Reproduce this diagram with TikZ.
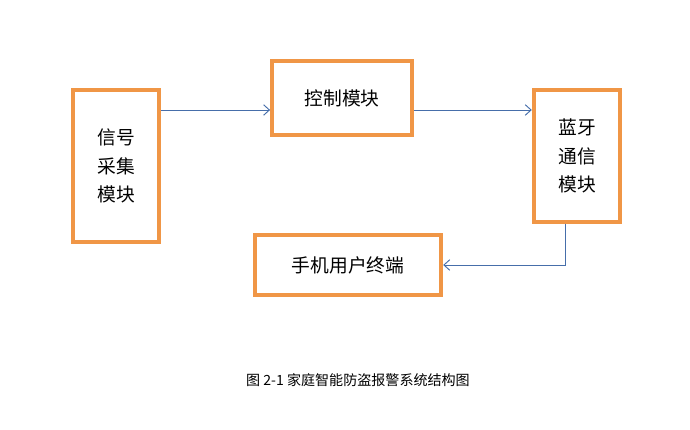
\documentclass[tikz,border=0pt]{standalone}
\usepackage{fontspec}
\usepackage{xcolor}
\usetikzlibrary{arrows.meta, positioning}
\setmainfont{Noto Sans CJK SC}
\definecolor{boxorange}{RGB}{240, 150, 70}
\definecolor{arrowblue}{RGB}{70, 110, 170}

\begin{document}
\begin{tikzpicture}[
    x=0.03cm, y=-0.03cm,
    modbox/.style={rectangle, draw=boxorange, line width=3.2pt, fill=white, align=center, font=\fontsize{16}{24}\selectfont, inner sep=0pt},
    flow/.style={draw=arrowblue, line width=0.8pt, -{Straight Barb[length=5pt, width=9pt]}},
    caption/.style={font=\fontsize{12}{14}\selectfont}
]
\useasboundingbox (0,0) rectangle (690,430);
\node[modbox, minimum width=4.2cm, minimum height=2.2cm] at (342,98) (ctrl) {控制模块};
\node[modbox, minimum width=2.6cm, minimum height=3.95cm] at (577,156) (bt) {蓝牙\\通信\\模块};
\node[modbox, minimum width=5.6cm, minimum height=1.8cm] at (348,265) (phone) {手机用户终端};
\node[modbox, minimum width=2.6cm, minimum height=4.55cm] at (116,166) (signal) {信号\\采集\\模块};

\coordinate (turn) at (565,265);
\draw[flow] (signal.east |- 0,110) -- (ctrl.west |- 0,110);
\draw[flow] (ctrl.east |- 0,110) -- (bt.west |- 0,110);
\draw[flow] (bt.south -| turn) -- (turn) -- (phone.east);

\node[caption] (cap) at (358,380) {图 2-1 家庭智能防盗报警系统结构图};
\end{tikzpicture}
\end{document}
